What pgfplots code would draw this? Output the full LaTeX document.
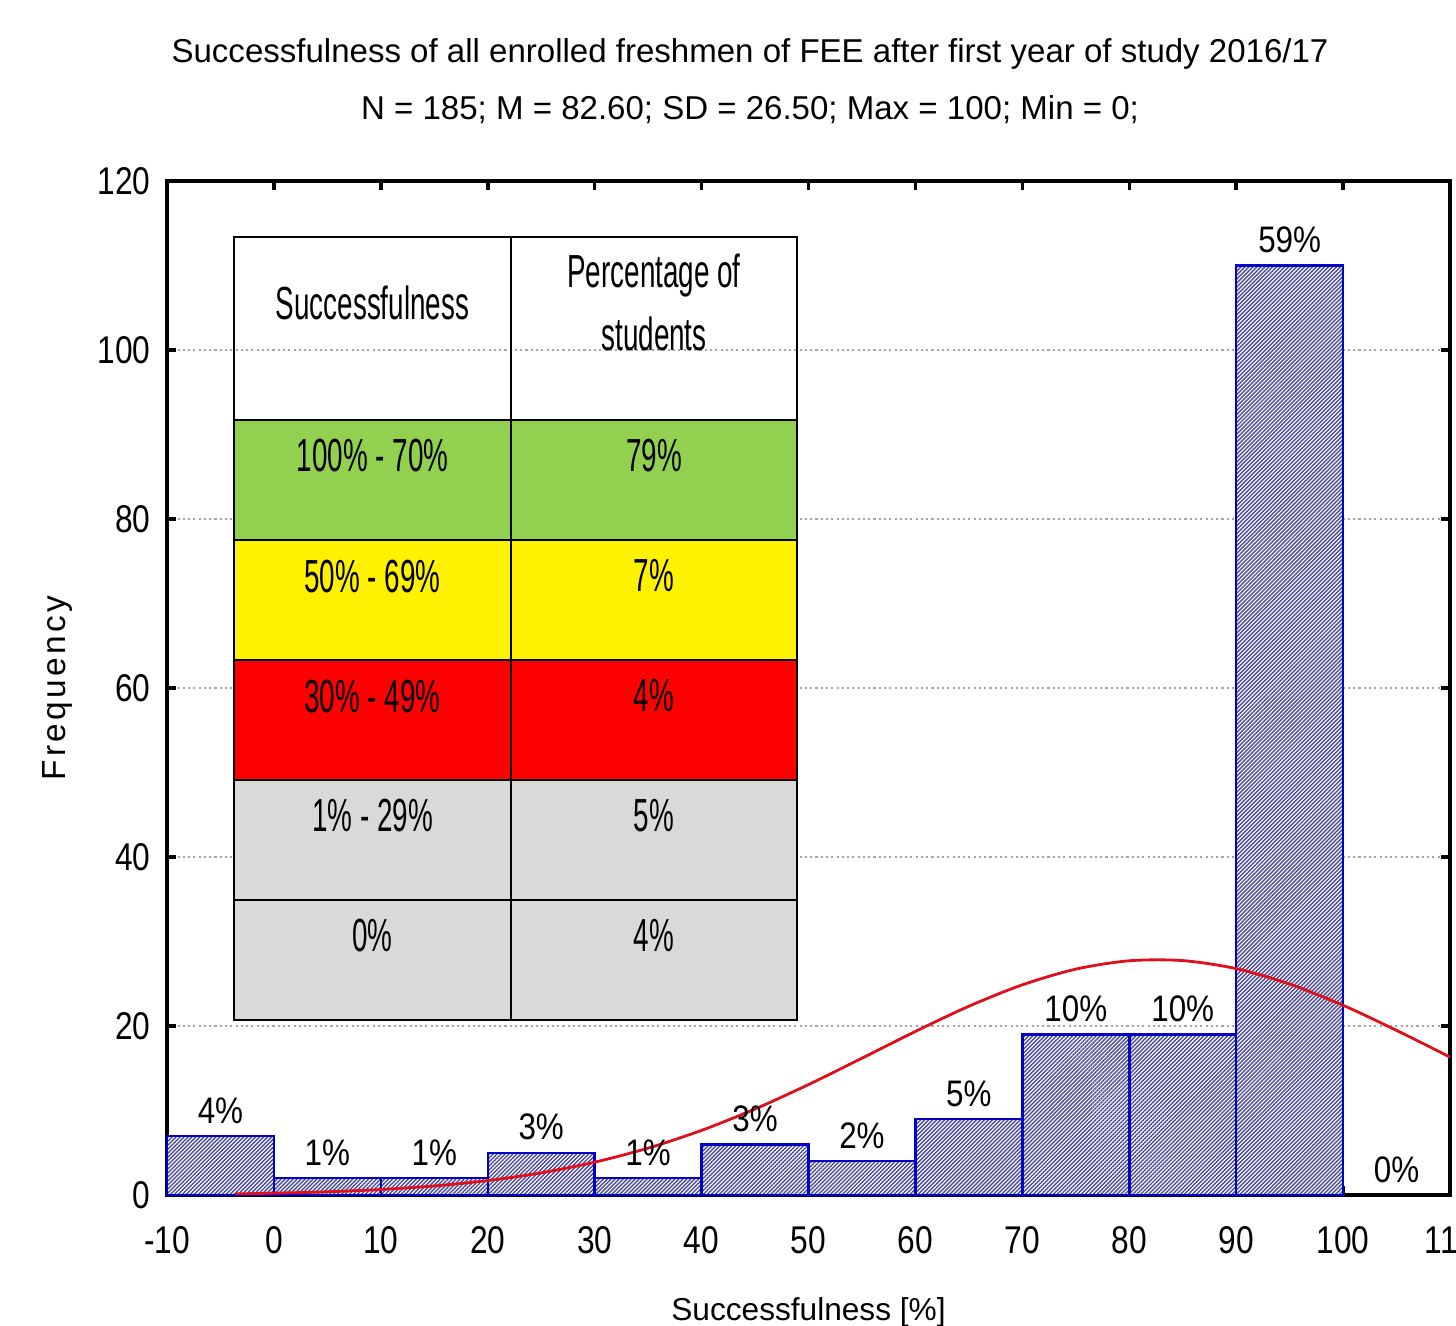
\documentclass[border=0pt]{standalone}
\usepackage{fontspec}
\setmainfont{Liberation Sans}
\newfontfamily\tickfont[FakeStretch=0.82]{Liberation Sans}
\newfontfamily\pctfont[FakeStretch=0.85]{Liberation Sans}
\newfontfamily\tabfont[FakeStretch=0.6]{Liberation Sans}
\usepackage{pgfplots}
\pgfplotsset{compat=1.18}
\usetikzlibrary{patterns.meta}
\definecolor{tgreen}{HTML}{92D050}
\definecolor{tgray}{HTML}{D9D9D9}
\definecolor{barblue}{HTML}{0000C8}
\definecolor{hatch}{HTML}{4A4A9A}
\definecolor{curvered}{HTML}{E0101A}
\begin{document}
\begin{tikzpicture}
\begin{axis}[
  scale only axis, width=128.3mm, height=101.4mm,
  xmin=-10, xmax=110, ymin=0, ymax=120,
  xtick={-10,0,...,110}, ytick={0,20,...,120},
  tick align=inside, major tick length=0.9mm,
  every tick/.style={black, line width=1pt},
  axis line style={line width=0.9pt},
  ymajorgrids, grid style={dash pattern=on 0.6pt off 0.9pt, gray!70, line width=0.4pt},
  /pgf/number format/assume math mode=true,
  tick label style={font=\tickfont\fontsize{11}{13}\selectfont},
  xticklabel style={yshift=-1.9mm},
  yticklabel style={xshift=-0.4mm},
  xlabel={Successfulness [\%]},
  ylabel={Frequency},
  xlabel style={at={(axis description cs:0.5,-0.1006)}, anchor=north, inner sep=0pt, font=\fontsize{9}{11}\selectfont},
  ylabel style={at={(axis description cs:-0.085,0.5)}, anchor=center, font=\fontsize{9.5}{11}\selectfont\addfontfeature{LetterSpace=10}},
  clip=false,
]
% table inset
\fill[tgreen] (axis cs:-3.73,91.7) rectangle (axis cs:48.93,77.5);
\fill[yellow] (axis cs:-3.73,77.5) rectangle (axis cs:48.93,63.3);
\fill[red] (axis cs:-3.73,63.3) rectangle (axis cs:48.93,49.1);
\fill[tgray] (axis cs:-3.73,49.1) rectangle (axis cs:48.93,20.7);
\draw[line width=0.45pt] (axis cs:-3.73,113.4) rectangle (axis cs:48.93,20.7);
\draw[line width=0.45pt] (axis cs:22.18,113.4) -- (axis cs:22.18,20.7);
\draw[line width=0.45pt] (axis cs:-3.73,91.7) -- (axis cs:48.93,91.7);
\draw[line width=0.45pt] (axis cs:-3.73,77.5) -- (axis cs:48.93,77.5);
\draw[line width=0.45pt] (axis cs:-3.73,63.3) -- (axis cs:48.93,63.3);
\draw[line width=0.45pt] (axis cs:-3.73,49.1) -- (axis cs:48.93,49.1);
\draw[line width=0.45pt] (axis cs:-3.73,34.9) -- (axis cs:48.93,34.9);
\begin{scope}[every node/.style={font=\tabfont\fontsize{13.2}{17.9}\selectfont, align=center}]
\node at (axis cs:9.22,105.6) {Successfulness};
\node at (axis cs:35.55,105.6) {Percentage of\\students};
\node at (axis cs:9.22,87.46) {100\% - 70\%};
\node at (axis cs:35.55,87.46) {79\%};
\node at (axis cs:9.22,73.25) {50\% - 69\%};
\node at (axis cs:35.55,73.25) {7\%};
\node at (axis cs:9.22,59.05) {30\% - 49\%};
\node at (axis cs:35.55,59.05) {4\%};
\node at (axis cs:9.22,44.85) {1\% - 29\%};
\node at (axis cs:35.55,44.85) {5\%};
\node at (axis cs:9.22,30.65) {0\%};
\node at (axis cs:35.55,30.65) {4\%};
\end{scope}
% histogram
\addplot[ybar interval, draw=barblue, line width=0.7pt, fill=white,
  postaction={pattern={Lines[angle=45,distance=0.8pt,line width=0.4pt]}, pattern color=hatch}]
  coordinates {(-10,7) (0,2) (10,2) (20,5) (30,2) (40,6) (50,4) (60,9) (70,19) (80,19) (90,110) (100,110)};
% normal curve
\addplot[curvered, line width=0.8pt, smooth, mark=none] coordinates {
(-3.6,0.14) (0,0.216) (5,0.382) (10,0.653) (15,1.076) (20,1.711) (25,2.623) (30,3.884)
(35,5.551) (40,7.651) (45,10.18) (50,13.07) (55,16.19) (60,19.36) (65,22.34) (70,24.87)
(75,26.73) (80,27.72) (85,27.74) (90,26.79) (95,24.96) (100,22.45) (105,19.48) (110,16.32)};
% percentage labels
\addplot[draw=none, mark=none, nodes near coords, point meta=explicit symbolic,
  nodes near coords style={anchor=south, font=\pctfont\fontsize{10.5}{12}\selectfont}]
  coordinates {(-5,7)[4\%] (5,2)[1\%] (15,2)[1\%] (25,5)[3\%] (35,2)[1\%] (45,6)[3\%]
  (55,4)[2\%] (65,9)[5\%] (75,19)[10\%] (85,19)[10\%] (95,110)[59\%] (105,0)[0\%]};
% title
\node[anchor=base, yshift=11.8mm, font=\fontsize{9.4}{11}\selectfont] at (rel axis cs:0.4544,1)
  {Successfulness of all enrolled freshmen of FEE after first year of study 2016/17};
\node[anchor=base, yshift=6.1mm, font=\fontsize{9.4}{11}\selectfont] at (rel axis cs:0.4544,1)
  {N = 185; M = 82.60; SD = 26.50; Max = 100; Min = 0;};
\coordinate (ll) at (rel axis cs:0,0);
\coordinate (ur) at (rel axis cs:1,1);
\end{axis}
\pgfresetboundingbox
\path[use as bounding box] ([xshift=-16.7mm,yshift=-13mm]ll) rectangle ([xshift=0.6mm,yshift=18.1mm]ur);
\end{tikzpicture}
\end{document}
